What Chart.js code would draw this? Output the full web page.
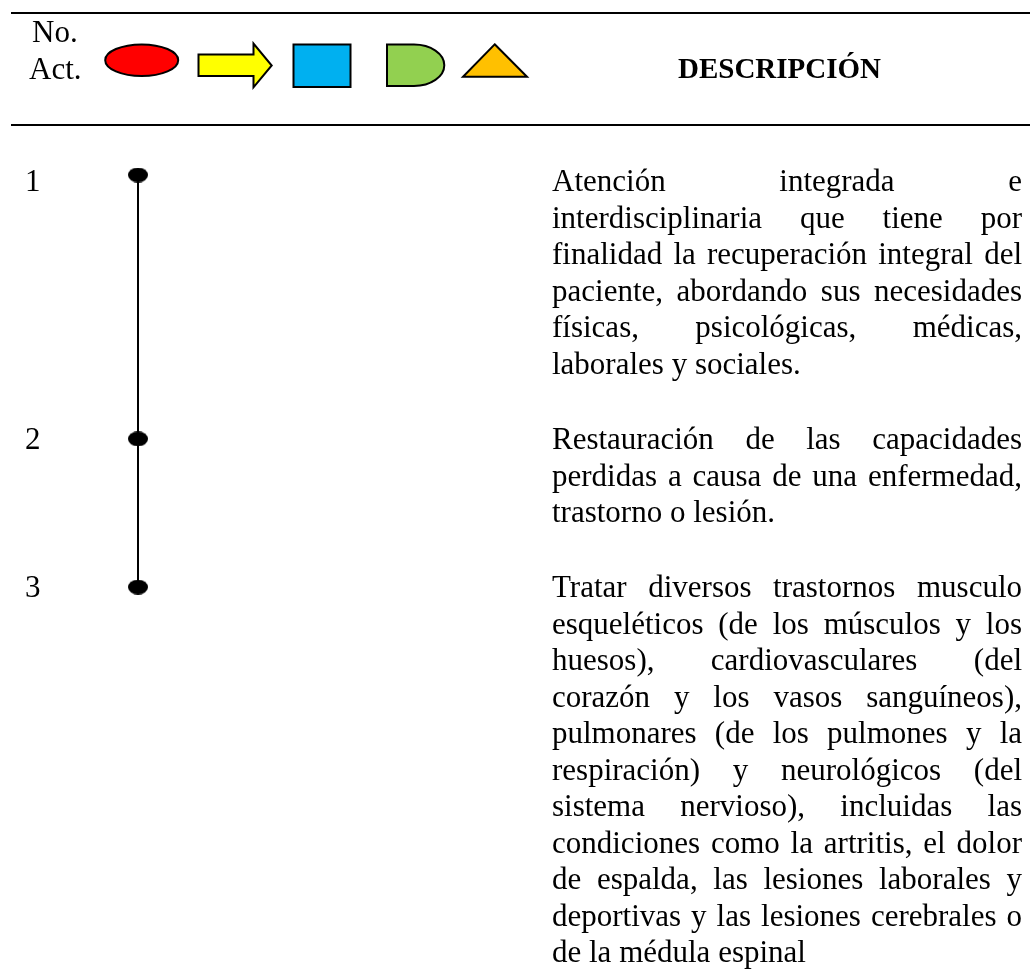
<!DOCTYPE html>
<html>
<head>
<meta charset="utf-8">
<script src="https://cdn.jsdelivr.net/npm/chart.js@4/dist/chart.umd.min.js"></script>
<style>
  html, body { margin: 0; padding: 0; background: #fff; }
  #wrap { width: 1030px; height: 969px; }
</style>
</head>
<body>
<div id="wrap"><canvas id="chart" width="1030" height="969"></canvas></div>
<script>
// Actividades del diagrama
const activityNumbers = ['1', '2', '3'];
// posición de cada punto, en renglones de texto desde la actividad 1
const activityRow = [0, 7.23, 11.29];

const headerNo = ['No.', 'Act.'];
const headerTitle = 'DESCRIPCIÓN';

// renglones de cada descripción (justificados, el último queda a la izquierda)
const description1 = [
    'Atención integrada e',
    'interdisciplinaria que tiene por',
    'finalidad la recuperación integral del',
    'paciente, abordando sus necesidades',
    'físicas, psicológicas, médicas,',
    'laborales y sociales.'
];
const description2 = [
    'Restauración de las capacidades',
    'perdidas a causa de una enfermedad,',
    'trastorno o lesión.'
];
const description3 = [
    'Tratar diversos trastornos musculo',
    'esqueléticos (de los músculos y los',
    'huesos), cardiovasculares (del',
    'corazón y los vasos sanguíneos),',
    'pulmonares (de los pulmones y la',
    'respiración) y neurológicos (del',
    'sistema nervioso), incluidas las',
    'condiciones como la artritis, el dolor',
    'de espalda, las lesiones laborales y',
    'deportivas y las lesiones cerebrales o',
    'de la médula espinal'
];
const descriptions = [description1, description2, description3];
const blockTop = [191, 449, 597];   // línea base del primer renglón
const lineHeight = 36.5;

const SERIF = '"Liberation Serif", "Times New Roman", serif';

// punto negro ovalado
function makeDot() {
    const c = document.createElement('canvas');
    c.width = 20; c.height = 15;
    const g = c.getContext('2d');
    g.fillStyle = '#000';
    g.beginPath();
    g.ellipse(10, 7.5, 10, 7.5, 0, 0, Math.PI * 2);
    g.fill();
    return c;
}

function justifyLine(ctx, text, x, y, width, last) {
    if (last) { ctx.fillText(text, x, y); return; }
    const words = text.split(' ');
    const total = words.reduce((s, w) => s + ctx.measureText(w).width, 0);
    const gap = words.length > 1 ? (width - total) / (words.length - 1) : 0;
    let cx = x;
    words.forEach(w => {
        ctx.fillText(w, cx, y);
        cx += ctx.measureText(w).width + gap;
    });
}

// encabezado, símbolos y textos
const flowPlugin = {
    id: 'flow',
    afterDraw(chart) {
        const ctx = chart.ctx;
        ctx.save();

        // líneas del encabezado
        ctx.fillStyle = '#000';
        ctx.fillRect(11, 12, 1019, 2);
        ctx.fillRect(11, 124, 1019, 2);

        ctx.font = '31px ' + SERIF;
        ctx.textBaseline = 'alphabetic';
        ctx.fillText(headerNo[0], 32, 42);
        ctx.fillText(headerNo[1], 29, 79);

        ctx.font = 'bold 29px ' + SERIF;
        ctx.fillText(headerTitle, 678, 78);

        ctx.lineWidth = 2;
        ctx.strokeStyle = '#000';

        // óvalo
        ctx.fillStyle = '#FF0000';
        ctx.beginPath();
        ctx.ellipse(141.7, 60.2, 36.5, 15.8, 0, 0, Math.PI * 2);
        ctx.fill(); ctx.stroke();

        // flecha
        ctx.fillStyle = '#FFFF00';
        ctx.beginPath();
        ctx.moveTo(198.5, 54.5);
        ctx.lineTo(253.5, 54.5);
        ctx.lineTo(253.5, 43.5);
        ctx.lineTo(271.7, 65.5);
        ctx.lineTo(253.5, 87.3);
        ctx.lineTo(253.5, 76);
        ctx.lineTo(198.5, 76);
        ctx.closePath();
        ctx.fill(); ctx.stroke();

        // cuadrado
        ctx.fillStyle = '#00B0F0';
        ctx.beginPath();
        ctx.rect(293.5, 44.5, 57, 42.5);
        ctx.fill(); ctx.stroke();

        // demora
        ctx.fillStyle = '#92D050';
        ctx.beginPath();
        ctx.moveTo(387, 44.5);
        ctx.lineTo(414, 44.5);
        ctx.ellipse(414, 65.2, 30.3, 20.7, 0, -Math.PI / 2, Math.PI / 2);
        ctx.lineTo(387, 86);
        ctx.closePath();
        ctx.fill(); ctx.stroke();

        // triángulo
        ctx.fillStyle = '#FFC000';
        ctx.beginPath();
        ctx.moveTo(494.7, 44.3);
        ctx.lineTo(527, 76.7);
        ctx.lineTo(463, 76.7);
        ctx.closePath();
        ctx.fill(); ctx.stroke();

        // números y descripciones
        ctx.fillStyle = '#000';
        ctx.font = '31px ' + SERIF;
        activityNumbers.forEach((n, i) => {
            ctx.fillText(n, 25, blockTop[i]);
        });
        descriptions.forEach((lines, i) => {
            lines.forEach((line, j) => {
                justifyLine(ctx, line, 552, blockTop[i] + j * lineHeight, 470, j === lines.length - 1);
            });
        });

        ctx.restore();
    }
};

new Chart(document.getElementById('chart'), {
    type: 'line',
    data: {
        labels: activityNumbers,
        datasets: [{
            data: activityRow.map(r => ({ x: 0, y: r })),
            borderColor: '#000',
            borderWidth: 2,
            pointStyle: makeDot(),
            pointRadius: 8,
            pointHoverRadius: 8,
            clip: false,
            tension: 0
        }]
    },
    options: {
        responsive: false,
        animation: false,
        devicePixelRatio: 1,
        layout: { padding: { left: 100, right: 854, top: 138.5, bottom: 356 } },
        scales: {
            x: { type: 'linear', min: -1, max: 1, display: false },
            y: { type: 'linear', min: -1, max: 12, reverse: true, display: false }
        },
        plugins: {
            legend: { display: false },
            tooltip: { enabled: false }
        }
    },
    plugins: [flowPlugin]
});
</script>
</body>
</html>
